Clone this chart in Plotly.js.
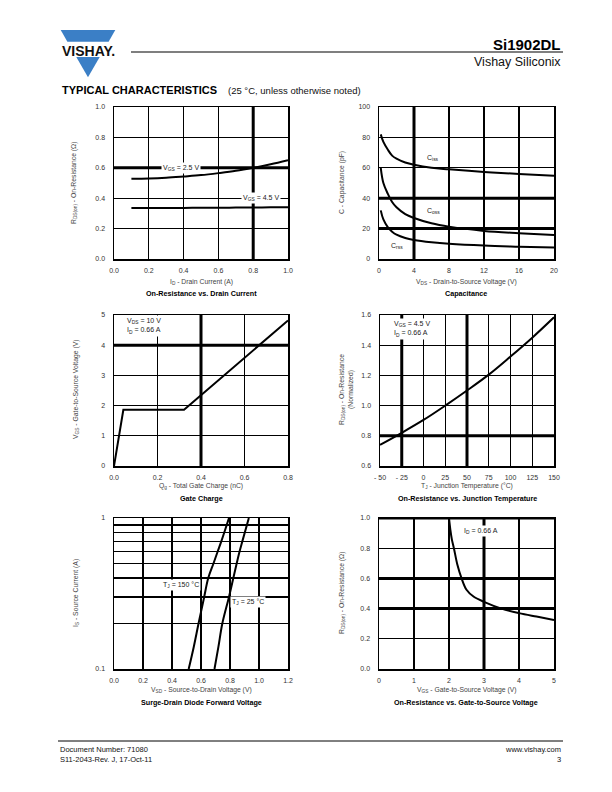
<!DOCTYPE html>
<html><head><meta charset="utf-8">
<script src="https://cdn.plot.ly/plotly-3.0.1.min.js"></script>
<style>html,body{margin:0;padding:0;background:#fff}#chart{width:612px;height:792px}</style>
</head><body><div id="chart"></div><script>
// ---------- DATA ----------
// 1. On-Resistance vs. Drain Current
const id_A = [0.1,0.2,0.3,0.4,0.5,0.6,0.7,0.8,0.9,1.0];
const rds_vgs25 = [0.528,0.530,0.535,0.543,0.552,0.565,0.580,0.600,0.623,0.650];
const rds_vgs45 = [0.335,0.335,0.336,0.336,0.337,0.337,0.338,0.339,0.340,0.341];
// 2. Capacitance
const vds_V = [0.2,0.5,1,1.5,2,3,4,6,8,12,16,20];
const ciss_pF = [82,77,72,68,66,63.5,62,60,59,57.3,56,54.7];
const coss_pF = [60,50,43,37.5,34,29.5,27,23.5,21.3,18.5,17,15.8];
const crss_pF = [32,26,21,18,16,13.8,12.5,11,10,8.8,8.1,7.5];
// 3. Gate Charge
const qg_nC = [0,0.043,0.322,0.8];
const vgs_gc = [0,1.86,1.86,4.82];
// 4. On-Resistance vs. Junction Temperature
const tj_C = [-50,-25,0,25,50,75,100,125,150];
const rds_norm = [0.74,0.82,0.905,1.0,1.1,1.205,1.325,1.45,1.585];
const tj_ticks = [-50,-25,0,25,50,75,100,125,150];
const tj_ticktext = ['- 50','- 25','0','25','50','75','100','125','150'];
// 5. Source-Drain Diode Forward Voltage
const is_A = [0.1,0.14,0.2,0.3,0.4,0.5,0.6,0.7,1.0];
const vsd_150 = [0.515,0.55,0.583,0.622,0.65,0.686,0.715,0.74,0.793];
const vsd_25 = [0.693,0.72,0.747,0.793,0.823,0.846,0.866,0.885,0.93];
const is_ticks = [0.1,1];
const is_ticktext = ['0.1','1'];
const is_minor = [0.2,0.3,0.4,0.5,0.6,0.7,0.8,0.9];
// 6. On-Resistance vs. Gate-to-Source Voltage
const vgs_V = [2.0,2.04,2.08,2.14,2.24,2.36,2.5,2.7,3.0,3.5,4.0,4.5,5.0];
const rds_vgs = [1.0,0.92,0.86,0.8,0.69,0.6,0.525,0.48,0.445,0.4,0.37,0.347,0.325];

// ---------- LAYOUT HELPERS ----------
const W=612,H=792;
const PX = x=>x/W, PY = y=>1-y/H;
const F = 'Liberation Sans, Arial, sans-serif';
const boxes = [[114,288,107,259],[379,554,107,259],[114,288,315,466],[380,554,315,466],[114,288,518,669],[379,554,518,669]];
const tickfont = {family:F,size:7,color:'#333'};
function common(){return {showgrid:true,gridcolor:'#000',gridwidth:1.2,showline:true,linecolor:'#000',linewidth:1.5,mirror:true,zeroline:false,ticks:'outside',ticklen:4,tickcolor:'rgba(0,0,0,0)',tickfont:tickfont,fixedrange:true};}
function xa(i,extra){const b=boxes[i];return Object.assign(common(),{domain:[PX(b[0]),PX(b[1])],anchor:'y'+(i?i+1:'')},extra);}
function ya(i,extra){const b=boxes[i];return Object.assign(common(),{domain:[PY(b[3]),PY(b[2])],anchor:'x'+(i?i+1:''),ticklen:6},extra);}

const line = {color:'#000',width:2};
function tr(i,x,y,shape){return {x:x,y:y,type:'scatter',mode:'lines',line:Object.assign({},line,{shape:shape||'spline'}),xaxis:'x'+(i?i+1:''),yaxis:'y'+(i?i+1:''),hoverinfo:'skip'};}

const data = [
  tr(0,id_A,rds_vgs25), tr(0,id_A,rds_vgs45),
  tr(1,vds_V,ciss_pF), tr(1,vds_V,coss_pF), tr(1,vds_V,crss_pF),
  tr(2,qg_nC,vgs_gc,'linear'),
  tr(3,tj_C,rds_norm),
  tr(4,vsd_150,is_A), tr(4,vsd_25,is_A),
  tr(5,vgs_V,rds_vgs)
];

const shapes = [];
function vThick(i,x){const s=i?i+1:'';shapes.push({type:'line',xref:'x'+s,yref:'y'+s+' domain',x0:x,x1:x,y0:0,y1:1,line:{color:'#000',width:3}});}
function hThick(i,y){const s=i?i+1:'';shapes.push({type:'line',xref:'x'+s+' domain',yref:'y'+s,x0:0,x1:1,y0:y,y1:y,line:{color:'#000',width:3}});}
vThick(0,0.8); hThick(0,0.6);
vThick(1,4); hThick(1,20); hThick(1,40);
vThick(2,0.4); hThick(2,4);
vThick(3,-25); vThick(3,50); hThick(3,0.8);
vThick(5,3); hThick(5,0.4); hThick(5,0.6); hThick(5,1.0);

// page lines
function pline(x0,y0,x1,y1,w,c){shapes.push({type:'line',xref:'paper',yref:'paper',x0:PX(x0),y0:PY(y0),x1:PX(x1),y1:PY(y1),line:{color:c||'#000',width:w}});}
pline(131,52,563,52,1.2);
pline(58,741,563,741,1);
// logo
function ppath(pts,c){shapes.push({type:'path',xref:'paper',yref:'paper',path:'M'+pts.map(p=>PX(p[0])+','+PY(p[1])).join(' L')+' Z',fillcolor:c,line:{width:0}});}
ppath([[60.7,30],[115.3,30],[108.6,41.7],[67.4,41.7]],'#3b7fc6');
ppath([[76.3,57],[99.7,57],[88,77.3]],'#3b7fc6');

const ann = [];
function pa(x,y,text,o){ann.push(Object.assign({xref:'paper',yref:'paper',x:PX(x),y:PY(y),text:text,showarrow:false,xanchor:'center',yanchor:'middle',font:{family:F,size:7,color:'#333'}},o||{}));}
function da(i,x,y,text,o){const s=i?i+1:'';ann.push(Object.assign({xref:'x'+s,yref:'y'+s,x:x,y:y,text:text,showarrow:false,xanchor:'center',yanchor:'middle',font:{family:F,size:7,color:'#222'}},o||{}));}

// header/footer
pa(88,50.5,'<b>VISHAY.</b>',{font:{family:F,size:14,color:'#111'}});
pa(563,44,'<b>Si1902DL</b>',{xanchor:'right',font:{family:F,size:15,color:'#000'}});
pa(563,62,'Vishay Siliconix',{xanchor:'right',font:{family:F,size:12.5,color:'#111'}});
pa(60,90,'<b>TYPICAL CHARACTERISTICS</b>',{xanchor:'left',font:{family:F,size:11,color:'#000'}});
pa(226,90,'(25 °C, unless otherwise noted)',{xanchor:'left',font:{family:F,size:9.5,color:'#111'}});
pa(58,749,'Document Number: 71080',{xanchor:'left',font:{family:F,size:7.5,color:'#111'}});
pa(58,759,'S11-2043-Rev. J, 17-Oct-11',{xanchor:'left',font:{family:F,size:7.5,color:'#111'}});
pa(563,749,'www.vishay.com',{xanchor:'right',font:{family:F,size:7.5,color:'#111'}});
pa(563,759,'3',{xanchor:'right',font:{family:F,size:7.5,color:'#111'}});

// axis titles
const tf = {family:F,size:6.8,color:'#444'};
const sf = {family:F,size:7.2,color:'#000'};
pa(74,183,'R<sub>DS(on)</sub> - On-Resistance (Ω)',{textangle:-90,font:tf});
pa(201,282,'I<sub>D</sub> - Drain Current (A)',{font:tf});
pa(201,293,'<b>On-Resistance vs. Drain Current</b>',{font:sf});
pa(342,183,'C - Capacitance (pF)',{textangle:-90,font:tf});
pa(466,282,'V<sub>DS</sub> - Drain-to-Source Voltage (V)',{font:tf});
pa(466,293,'<b>Capacitance</b>',{font:sf});
pa(76,390,'V<sub>GS</sub> - Gate-to-Source Voltage (V)',{textangle:-90,font:tf});
pa(201,486,'Q<sub>g</sub> - Total Gate Charge (nC)',{font:tf});
pa(201,498,'<b>Gate Charge</b>',{font:sf});
pa(346,390,'R<sub>DS(on)</sub> - On-Resistance<br>(Normalized)',{textangle:-90,font:tf});
pa(467,486,'T<sub>J</sub> - Junction Temperature (°C)',{font:tf});
pa(467,498,'<b>On-Resistance vs. Junction Temperature</b>',{font:sf});
pa(76,593,'I<sub>S</sub> - Source Current (A)',{textangle:-90,font:tf});
pa(201,690,'V<sub>SD</sub> - Source-to-Drain Voltage (V)',{font:tf});
pa(201,702,'<b>Surge-Drain Diode Forward Voltage</b>',{font:sf});
pa(342,593,'R<sub>DS(on)</sub> - On-Resistance (Ω)',{textangle:-90,font:tf});
pa(466,690,'V<sub>GS</sub> - Gate-to-Source Voltage (V)',{font:tf});
pa(466,702,'<b>On-Resistance vs. Gate-to-Source Voltage</b>',{font:sf});

// in-plot labels
const wb = {bgcolor:'#fff',borderpad:1};
da(0,0.387,0.6,'V<sub>GS</sub> = 2.5 V',wb);
da(0,0.847,0.4,'V<sub>GS</sub> = 4.5 V',wb);
da(1,6.2,66.5,'C<sub>iss</sub>');
da(1,6.2,31.5,'C<sub>oss</sub>');
da(1,2.0,8.3,'C<sub>rss</sub>');
da(2,0.052,4.65,'V<sub>DS</sub> = 10 V<br>I<sub>D</sub> = 0.66 A',{xanchor:'left',align:'left',bgcolor:'#fff',borderpad:1});
da(3,-36,1.507,'V<sub>GS</sub> = 4.5 V<br>I<sub>D</sub> = 0.66 A',{xanchor:'left',align:'left',bgcolor:'#fff',borderpad:1});
ann.push({xref:'x5',yref:'y5',x:0.46,y:Math.log10(0.358),text:'T<sub>J</sub> = 150 °C',showarrow:false,bgcolor:'#fff',borderpad:1,font:{family:F,size:7,color:'#222'}});
ann.push({xref:'x5',yref:'y5',x:0.926,y:Math.log10(0.277),text:'T<sub>J</sub> = 25 °C',showarrow:false,bgcolor:'#fff',borderpad:1,font:{family:F,size:7,color:'#222'}});
da(5,2.9,0.914,'I<sub>D</sub> = 0.66 A',wb);

const layout = {
  width:W,height:H,margin:{l:0,r:0,t:0,b:0},paper_bgcolor:'#fff',plot_bgcolor:'#fff',showlegend:false,
  xaxis: xa(0,{range:[0,1],dtick:0.2,tickformat:'.1f'}),
  yaxis: ya(0,{range:[0,1],dtick:0.2,tickformat:'.1f'}),
  xaxis2: xa(1,{range:[0,20],dtick:4}),
  yaxis2: ya(1,{range:[0,100],dtick:20}),
  xaxis3: xa(2,{range:[0,0.8],dtick:0.2,tickformat:'.1f'}),
  yaxis3: ya(2,{range:[0,5],dtick:1}),
  xaxis4: xa(3,{range:[-50,150],tickmode:'array',tickvals:tj_ticks,ticktext:tj_ticktext}),
  yaxis4: ya(3,{range:[0.6,1.6],dtick:0.2,tickformat:'.1f'}),
  xaxis5: xa(4,{range:[0,1.2],dtick:0.2,tickformat:'.1f'}),
  yaxis5: ya(4,{type:'log',range:[-1,0],tickmode:'array',tickvals:is_ticks,ticktext:is_ticktext,minor:{tickmode:'array',tickvals:is_minor,showgrid:true,gridcolor:'#000',gridwidth:1.2,ticks:''}}),
  xaxis6: xa(5,{range:[0,5],dtick:1}),
  yaxis6: ya(5,{range:[0,1],dtick:0.2,tickformat:'.1f'}),
  shapes:shapes, annotations:ann
};
Plotly.newPlot('chart',data,layout,{staticPlot:true,displayModeBar:false});
</script></body></html>
